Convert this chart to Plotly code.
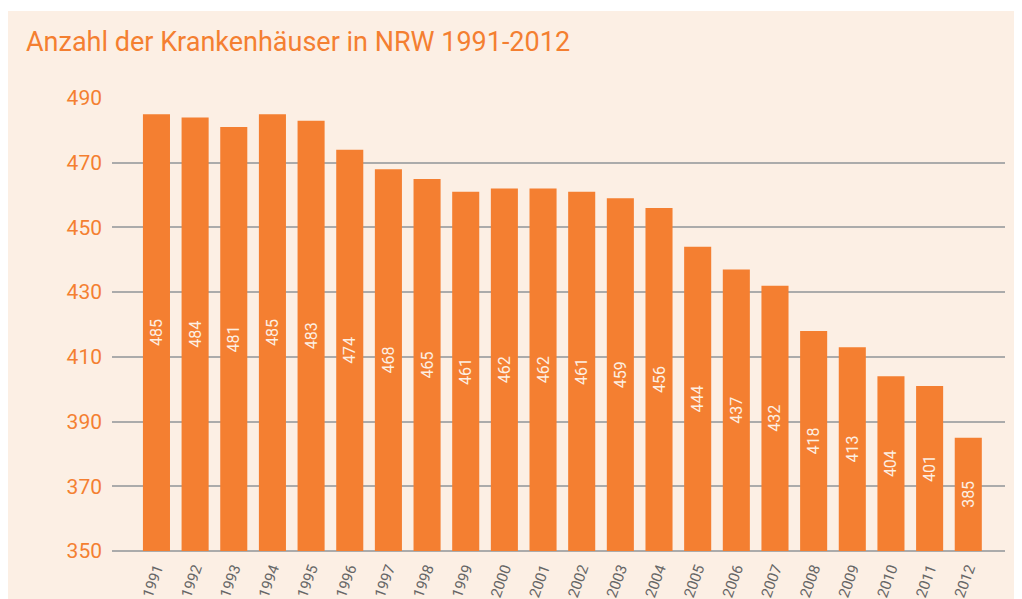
import plotly.graph_objects as go

years = [str(y) for y in range(1991, 2013)]
counts = [485, 484, 481, 485, 483, 474, 468, 465, 461, 462, 462,
          461, 459, 456, 444, 437, 432, 418, 413, 404, 401, 385]
y_ticks = [350, 370, 390, 410, 430, 450, 470, 490]
BASE = 350

ORANGE = "#F47F31"
CREAM = "#FCEFE4"
GRID = "#ABABAB"

# page body margin of 8px is included in the window
W, H = 1014, 591
ml, mr, mt, mb = 104, 17, 90, 48
pw, ph = W - ml - mr, H - mt - mb

fig = go.Figure(go.Bar(
    x=list(range(len(years))), y=[c - BASE for c in counts],
    marker=dict(color=ORANGE, line=dict(width=0)),
    text=[str(c) for c in counts], textposition="inside",
    insidetextanchor="middle", textangle=-90,
    textfont=dict(family="Roboto", size=16, color="#FDEFE2"),
    width=0.7,
))

fig.update_layout(
    width=W, height=H,
    margin=dict(l=ml, r=mr, t=mt, b=mb, autoexpand=False),
    paper_bgcolor=CREAM, plot_bgcolor=CREAM,
    showlegend=False,
    title=dict(text="Anzahl der Krankenhäuser in NRW 1991-2012",
               xref="container", yref="container",
               x=18 / W, y=1 - 34 / H, xanchor="left", yanchor="middle",
               font=dict(family="Roboto", size=27, color=ORANGE)),
    shapes=[dict(type="rect", xref="paper", yref="paper", layer="below",
                 x0=-ml / pw, x1=(W - ml) / pw,
                 y0=(ph + mt - 3) / ph, y1=(ph + mt + 1) / ph,
                 fillcolor="white", line=dict(width=0))],
    xaxis=dict(range=[-1.15, 21.95], tickmode="array",
               tickvals=list(range(len(years))), ticktext=years,
               tickangle=-70, showgrid=False, zeroline=False, ticks="",
               ticklabelstandoff=5,
               tickfont=dict(family="Roboto", size=15, color="#666666"),
               showline=False),
    yaxis=dict(range=[0, 140], tickmode="array",
               tickvals=[t - BASE for t in y_ticks],
               ticktext=[str(t) for t in y_ticks],
               showgrid=True, gridcolor=GRID, gridwidth=1.5,
               zeroline=True, zerolinecolor=GRID, zerolinewidth=1.5,
               ticks="", ticklabelstandoff=9,
               tickfont=dict(family="Roboto", size=21, color=ORANGE)),
)
fig.write_html("out.html")
